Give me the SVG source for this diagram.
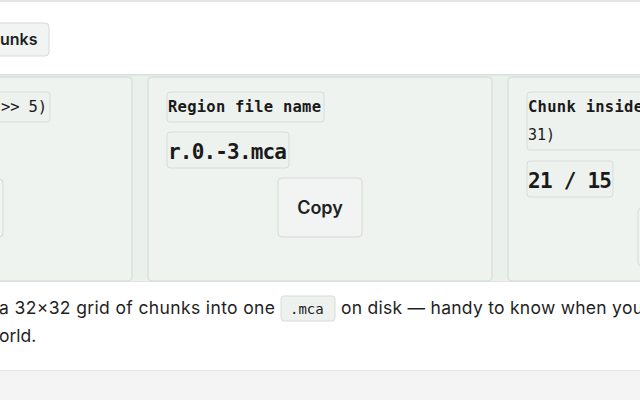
<svg xmlns="http://www.w3.org/2000/svg" width="640" height="400" viewBox="0 0 640 400">
<style>
.card{fill:#eff3f0;stroke:#d9e0db;stroke-width:1.5}
.chip{fill:#eef2ef;stroke:#d6ddd8;stroke-width:1}
.btn{fill:#f1f4f2;stroke:#d3dad5;stroke-width:1}
.mono{font-family:"DejaVu Sans Mono",monospace;fill:#1a1a1a}
.sans{font-family:"Inter","Noto Sans",sans-serif;fill:#1f1f1f}
</style>
<rect width="640" height="400" fill="#ffffff"/>
<rect x="0" y="0" width="640" height="2" fill="#e3e7e4"/>
<g id="btn-chunks"><rect class="btn" x="-10" y="23" width="59" height="33" rx="4" fill="#fff"/><text class="sans" x="0" y="45" font-size="16" font-weight="600">unks</text></g>
<rect x="0" y="74" width="640" height="208" fill="#eaf0ec"/>
<rect x="0" y="74" width="640" height="1.5" fill="#d9e1dc"/>
<rect x="0" y="281" width="640" height="1" fill="#dfe5e1"/>
<g id="card1"><rect class="card" x="-10" y="77" width="142" height="204" rx="4"/>
<rect class="chip" x="-5" y="92" width="55" height="30" rx="3"/><text class="mono" x="1" y="112" font-size="15.5" textLength="46">&gt;&gt; 5)</text>
<rect class="btn" x="-10" y="179" width="13" height="58" rx="4"/></g>
<g id="card2"><rect class="card" x="148" y="77" width="344" height="204" rx="4"/>
<rect class="chip" x="167" y="92" width="157" height="30" rx="3"/><text class="mono" x="168" y="112" font-size="15.5" font-weight="bold" textLength="153">Region file name</text>
<rect class="chip" x="167" y="132" width="122" height="36" rx="3"/><text class="mono" x="168" y="159" font-size="21" font-weight="bold" textLength="119">r.0.-3.mca</text>
<rect class="btn" x="278" y="178" width="84" height="59" rx="4"/><text class="sans" x="320" y="214" font-size="18" font-weight="600" text-anchor="middle">Copy</text></g>
<g id="card3"><rect class="card" x="508" y="77" width="150" height="204" rx="4"/>
<rect class="chip" x="527" y="92" width="130" height="58" rx="3"/><text class="mono" x="528" y="112" font-size="15.5" font-weight="bold" textLength="115">Chunk inside</text><text class="mono" x="528" y="140" font-size="15">31)</text>
<rect class="chip" x="527" y="161" width="86" height="36" rx="3"/><text class="mono" x="528" y="188" font-size="21" font-weight="bold" textLength="84">21 / 15</text>
<rect class="btn" x="638" y="208" width="10" height="58" rx="4"/></g>
<g id="caption">
<text class="sans" x="-1" y="314" font-size="17.5" fill="#333" textLength="276">a 32×32 grid of chunks into one</text>
<rect class="chip" x="281" y="296" width="54" height="25" rx="3" fill="#f2f4f3"/><text class="mono" x="290" y="314" font-size="14">.mca</text>
<text class="sans" x="341" y="314" font-size="17.5" fill="#333" textLength="302">on disk — handy to know when you</text>
<text class="sans" x="-1" y="342" font-size="17.5" fill="#333">orld.</text></g>
<rect x="0" y="370" width="640" height="30" fill="#f3f4f3"/>
<rect x="0" y="370" width="640" height="1" fill="#e4e7e5"/>
</svg>
